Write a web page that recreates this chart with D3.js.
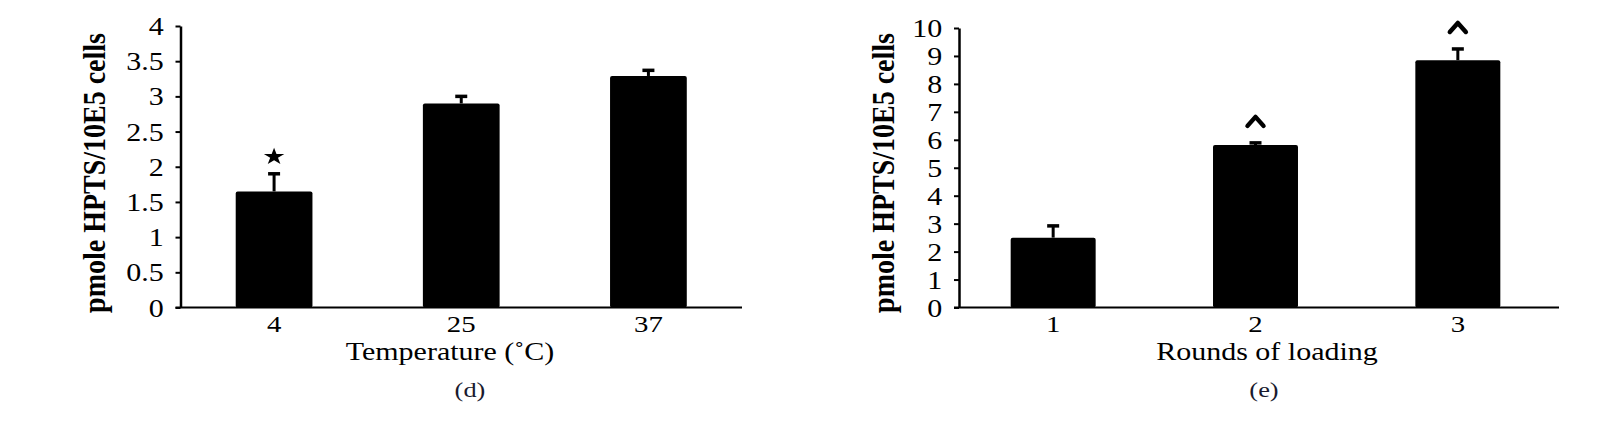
<!DOCTYPE html>
<html>
<head>
<meta charset="utf-8">
<script src="https://cdn.jsdelivr.net/npm/d3@7"></script>
<style>
  body { margin: 0; background: #fff; }
  svg { display: block; }
  text { font-family: "Liberation Serif", "Times New Roman", serif; }
</style>
</head>
<body>
<div id="myDataVis"></div>
<script>
// panel (d): temperature
var tempCats = ["4", "25", "37"];
var tempValues = [1.65, 2.9, 3.29];
var tempErrors = [0.25, 0.1, 0.08];
var tempMarks = ["*", "", ""];
var tempTicks = [0, 0.5, 1, 1.5, 2, 2.5, 3, 3.5, 4];

// panel (e): rounds of loading
var roundCats = ["1", "2", "3"];
var roundValues = [2.5, 5.81, 8.85];
var roundErrors = [0.42, 0.08, 0.4];
var roundMarks = ["", "^", "^"];
var roundTicks = [0, 1, 2, 3, 4, 5, 6, 7, 8, 9, 10];

var yTitle = "pmole HPTS/10E5 cells";

// the source figure is a bit stretched sideways
var stretch = 1.2;

var svg = d3.select("#myDataVis")
  .append("svg")
    .attr("width", 1602)
    .attr("height", 425);

function wideText(x, y, str, size) {
    return svg.append("text")
      .attr("transform", "translate(" + x + "," + y + ") scale(" + stretch + ",1)")
      .attr("text-anchor", "middle")
      .style("font-size", size + "px")
      .text(str);
}

function drawPanel(opt) {
    var x = d3.scaleBand()
      .domain(opt.cats)
      .range([opt.bandLeft, opt.right]);

    var y = d3.scaleLinear()
      .domain([0, opt.ymax])
      .range([307.5, opt.ytop]);

    var barW = x.bandwidth() * opt.barFrac;

    // y axis
    var yAxis = svg.append("g")
      .attr("transform", "translate(" + opt.left + ",0)")
      .call(d3.axisLeft(y).tickValues(opt.ticks).tickFormat(function(d) { return d; })
            .tickSize(5).tickSizeOuter(0).tickPadding(9));
    yAxis.select(".domain").attr("stroke", "#000").attr("stroke-width", 2.5);
    yAxis.selectAll(".tick line").attr("stroke", "#000").attr("stroke-width", 2);
    yAxis.selectAll(".tick text")
      .style("font-family", "Liberation Serif")
      .style("font-size", "25px")
      .attr("fill", "#000")
      .attr("dy", "0.34em")
      .attr("transform", "scale(" + stretch + ",1)");

    // bars
    svg.selectAll(null)
      .data(opt.values)
      .enter()
      .append("rect")
        .attr("x", function(d, i) { return x(opt.cats[i]) + (x.bandwidth() - barW) / 2; })
        .attr("y", function(d) { return y(d); })
        .attr("width", barW)
        .attr("height", function(d) { return y(0) - y(d); })
        .attr("rx", 2)
        .attr("fill", "#000");

    // error bars (upper only) and significance marks
    opt.values.forEach(function(v, i) {
        var cx = x(opt.cats[i]) + x.bandwidth() / 2;
        var top = y(v + opt.errors[i]);
        svg.append("line")
          .attr("x1", cx).attr("x2", cx)
          .attr("y1", y(v)).attr("y2", top)
          .attr("stroke", "#000").attr("stroke-width", 3);
        svg.append("line")
          .attr("x1", cx - 6).attr("x2", cx + 6)
          .attr("y1", top).attr("y2", top)
          .attr("stroke", "#000").attr("stroke-width", 3.5);
        if (opt.marks[i] == "*") {
            svg.append("path")
              .attr("transform", "translate(" + cx + "," + (top - 17) + ") scale(1.2,1)")
              .attr("d", d3.symbol().type(d3.symbolStar).size(90)())
              .attr("fill", "#000");
        } else if (opt.marks[i] == "^") {
            svg.append("path")
              .attr("transform", "translate(" + cx + "," + (top - 22) + ")")
              .attr("d", "M-8,5 L0,-4 L8,5")
              .attr("fill", "none")
              .attr("stroke", "#000")
              .attr("stroke-width", 4.5)
              .attr("stroke-linejoin", "round")
              .attr("stroke-linecap", "round");
        }
    });

    // x axis line
    svg.append("line")
      .attr("x1", opt.left - 5).attr("x2", opt.right)
      .attr("y1", 307.5).attr("y2", 307.5)
      .attr("stroke", "#000").attr("stroke-width", 2);

    // category labels
    opt.cats.forEach(function(c) {
        wideText(x(c) + x.bandwidth() / 2, 332, c, 24);
    });

    // x title
    wideText(opt.xTitleX, 360, opt.xTitle, 25);

    // y title
    svg.append("text")
      .attr("transform", "translate(" + opt.yTitleX + ",173) rotate(-90) scale(1,1.15)")
      .attr("text-anchor", "middle")
      .style("font-size", "28px")
      .style("font-weight", "bold")
      .text(yTitle);

    // panel caption
    wideText(opt.captionX, 397, opt.caption, 22)
      .attr("fill", "#1a1a2e");
}

drawPanel({
    cats: tempCats, values: tempValues, errors: tempErrors, marks: tempMarks,
    ticks: tempTicks, ymax: 4, ytop: 26,
    left: 180.5, bandLeft: 180.5, right: 742, barFrac: 0.41,
    xTitle: "Temperature (\u02DAC)", xTitleX: 450,
    yTitleX: 105, caption: "(d)", captionX: 470
});

drawPanel({
    cats: roundCats, values: roundValues, errors: roundErrors, marks: roundMarks,
    ticks: roundTicks, ymax: 10, ytop: 28,
    left: 959, bandLeft: 952, right: 1559, barFrac: 0.42,
    xTitle: "Rounds of loading", xTitleX: 1267,
    yTitleX: 894, caption: "(e)", captionX: 1264
});
</script>
</body>
</html>
